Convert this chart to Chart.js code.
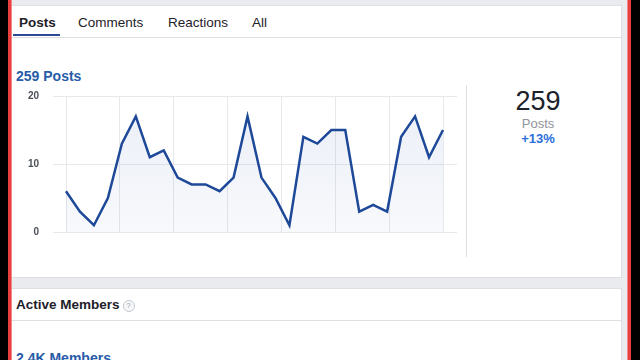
<!DOCTYPE html>
<html>
<head>
<meta charset="utf-8">
<script src="https://cdn.jsdelivr.net/npm/chart.js@4.4.1/dist/chart.umd.min.js"></script>
<style>
  html, body { margin: 0; padding: 0; }
  body {
    width: 640px; height: 360px; overflow: hidden; position: relative;
    background: #e9ebee;
    font-family: Helvetica, Arial, "Liberation Sans", sans-serif;
    color: #1d2129;
  }
  .abs { position: absolute; white-space: nowrap; }
  .card { position: absolute; background: #fff; border: 1px solid #dddfe2; box-sizing: border-box; }
  .tab { font-size: 13.5px; line-height: 16px; top: 14.6px; }
  .title { font-size: 14px; font-weight: bold; line-height: 16px; color: #285ba8; }
  .hr { position: absolute; height: 1px; background: #dddfe2; }
</style>
</head>
<body>
<!-- frame edges -->
<div class="abs" style="left:0;top:0;width:8px;height:360px;background:#000"></div>
<div class="abs" style="left:8px;top:0;width:3px;height:360px;background:#e8403f"></div>
<div class="abs" style="left:11px;top:0;width:1px;height:360px;background:#f08a8a"></div>
<div class="abs" style="left:627px;top:0;width:1px;height:360px;background:#f08a8a"></div>
<div class="abs" style="left:628px;top:0;width:3px;height:360px;background:#e8403f"></div>
<div class="abs" style="left:631px;top:0;width:9px;height:360px;background:#000"></div>

<!-- top card -->
<div class="card" style="left:12px;top:5px;width:610px;height:273px;border-left:none"></div>
<div class="abs tab" style="left:19px;font-weight:bold">Posts</div>
<div class="abs tab" style="left:78px">Comments</div>
<div class="abs tab" style="left:168px">Reactions</div>
<div class="abs tab" style="left:252px">All</div>
<div class="hr" style="left:12px;top:37px;width:610px"></div>
<div class="abs" style="left:13px;top:34px;width:47px;height:2px;background:#2d4a94"></div>

<div class="abs title" style="left:16px;top:68px">259 Posts</div>

<canvas id="postsChart" width="470" height="164" class="abs" style="left:0;top:86px"></canvas>

<div class="abs" style="left:466px;top:85px;width:1px;height:172px;background:#dddfe2"></div>

<div class="abs" style="left:478px;width:120px;text-align:center;top:85.7px;font-size:27px;line-height:30px;color:#1d2129">259</div>
<div class="abs" style="left:478px;width:120px;text-align:center;top:115.8px;font-size:13px;line-height:16px;color:#90949c">Posts</div>
<div class="abs" style="left:478px;width:120px;text-align:center;top:130.5px;font-size:13px;line-height:16px;font-weight:bold;color:#2a6fdb">+13%</div>

<!-- second card -->
<div class="card" style="left:12px;top:288px;width:610px;height:90px;border-left:none"></div>
<div class="abs" style="left:16px;top:296.6px;font-size:13.5px;line-height:16px;font-weight:bold">Active Members</div>
<div class="abs" style="left:122.5px;top:299.5px;width:10px;height:10px;border:1px solid #c6c9cf;border-radius:50%;background:#f7f8f9;color:#9a9ea6;font-size:8px;line-height:10px;text-align:center">?</div>
<div class="hr" style="left:12px;top:320px;width:610px"></div>
<div class="abs title" style="left:16px;top:350px">2.4K Members</div>

<script>
const dayLabels = ['1', '2', '3', '4', '5', '6', '7', '8', '9', '10', '11', '12', '13', '14',
                   '15', '16', '17', '18', '19', '20', '21', '22', '23', '24', '25', '26', '27', '28'];
const postCounts = [6, 3, 1, 5, 13, 17, 11, 12, 8, 7, 7, 6, 8, 17,
                    8, 5, 1, 14, 13, 15, 15, 3, 4, 3, 14, 17, 11, 15];
const yTicks = [0, 10, 20];
const weekGrid = [0, 1, 2, 3, 4, 5, 6, 7];

const gridColor = '#e6e8ec';
const ctx = document.getElementById('postsChart').getContext('2d');

// keep the label padding from pushing the plot area inward
function fixVertical(width) {
    return axis => {
        axis.width = width;
        axis.paddingTop = 0;
        axis.paddingBottom = 0;
    };
}

new Chart(ctx, {
    type: 'line',
    data: {
        labels: dayLabels,
        datasets: [{
            data: postCounts,
            borderColor: '#1e4898',
            borderWidth: 2.5,
            pointRadius: 0,
            tension: 0,
            fill: 'origin',
            backgroundColor: function (context) {
                const area = context.chart.chartArea;
                if (!area) return 'rgba(66,103,178,0.07)';
                const g = context.chart.ctx.createLinearGradient(0, area.top, 0, area.bottom);
                g.addColorStop(0, 'rgba(66,103,178,0.11)');
                g.addColorStop(1, 'rgba(66,103,178,0.04)');
                return g;
            }
        }]
    },
    options: {
        responsive: false,
        animation: false,
        layout: { padding: { left: 26, right: 13, top: 10, bottom: 18 } },
        plugins: { legend: { display: false }, tooltip: { enabled: false } },
        scales: {
            x: { type: 'category', display: false },
            x2: {
                type: 'linear',
                position: 'bottom',
                min: weekGrid[0],
                max: weekGrid[weekGrid.length - 1],
                afterBuildTicks: axis => { axis.ticks = weekGrid.map(v => ({ value: v })); },
                afterFit: axis => { axis.height = 0; axis.paddingLeft = 0; axis.paddingRight = 0; },
                ticks: { display: false },
                grid: { color: gridColor, drawTicks: false },
                border: { display: false }
            },
            y: {
                min: yTicks[0],
                max: yTicks[yTicks.length - 1],
                afterBuildTicks: axis => { axis.ticks = yTicks.map(v => ({ value: v })); },
                afterFit: fixVertical(40),
                ticks: {
                    padding: 14,
                    color: '#4b4f56',
                    font: { size: 10, weight: 'bold', family: 'Helvetica, Arial, "Liberation Sans", sans-serif' }
                },
                grid: { color: gridColor, tickLength: 13 },
                border: { display: false }
            },
            y2: {
                position: 'right',
                min: yTicks[0],
                max: yTicks[yTicks.length - 1],
                afterBuildTicks: axis => { axis.ticks = yTicks.map(v => ({ value: v })); },
                afterFit: fixVertical(14),
                ticks: { display: false },
                grid: { color: gridColor, drawOnChartArea: false, tickLength: 14 },
                border: { display: false }
            }
        }
    }
});
</script>
</body>
</html>
